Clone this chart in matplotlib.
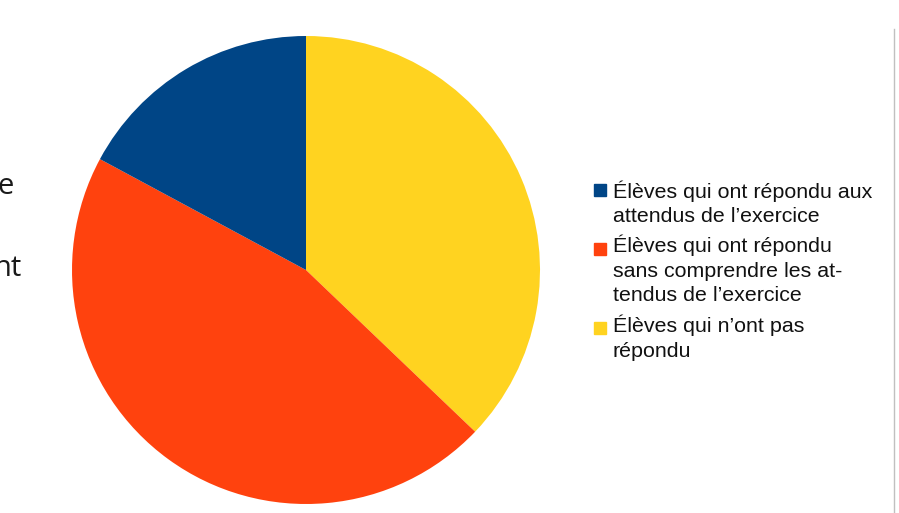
import matplotlib as mpl
mpl.use('Agg')
import matplotlib.pyplot as plt
from matplotlib.patches import Rectangle

# slices, in drawing order (clockwise from 12 o'clock)
labels = [
    "Élèves qui ont répondu aux\nattendus de l’exercice",
    "Élèves qui ont répondu\nsans comprendre les at-\ntendus de l’exercice",
    "Élèves qui n’ont pas\nrépondu",
]
counts = [6, 16, 13]
colors = ['#004586', '#ff420e', '#ffd320']

W, H = 899, 513
fig = plt.figure(figsize=(W / 100, H / 100), dpi=100)
fig.patch.set_facecolor('white')

# pie axes, square in pixels
cx, cy, r = 306, 270, 234
ax = fig.add_axes([(cx - r) / W, (H - cy - r) / H, 2 * r / W, 2 * r / H])
order = [2, 1, 0]
ax.pie([counts[i] for i in order], colors=[colors[i] for i in order],
       startangle=90, counterclock=False, radius=1,
       wedgeprops=dict(linewidth=0))
ax.set_xlim(-1, 1)
ax.set_ylim(-1, 1)
ax.set_aspect('equal')
ax.axis('off')

# legend built by hand
font = dict(family='Liberation Sans', fontsize=15.4, color='#111111')
tops = [180, 235, 315]
boxes = [184, 243, 322]
for lab, col, top, by in zip(labels, colors, tops, boxes):
    fig.patches.append(Rectangle((594 / W, 1 - (by + 12) / H), 12 / W, 12 / H,
                                 transform=fig.transFigure, color=col))
    fig.text(613 / W, 1 - top / H, lab, va='top', ha='left',
             linespacing=1.35, **font)

# clipped text from the slide on the left
fig.text(14 / W, 1 - 186 / H, "e", ha='right', va='center',
         family='Open Sans', fontsize=21, color='#1a1a1a')
fig.text(22 / W, 1 - 268 / H, "nt", ha='right', va='center',
         family='Open Sans', fontsize=21, color='#1a1a1a')

# thin frame line on the right
fig.add_artist(plt.Line2D([894 / W, 894 / W], [0, 1 - 29 / H],
                          transform=fig.transFigure, color='#c0c0c0', lw=1))

fig.savefig('out.png', dpi=100)
